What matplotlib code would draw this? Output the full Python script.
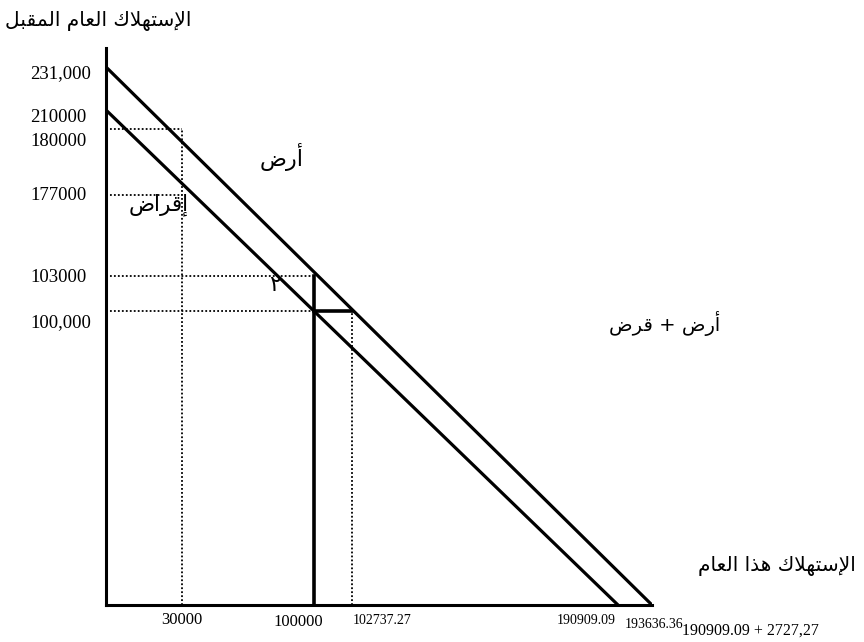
import numpy as np
import matplotlib
matplotlib.use("Agg")
import matplotlib.pyplot as plt

# values
upper_x = [0, 193636.36]          # endowment line (land + loan)
upper_y = [231000, 0]
lower_x = [0, 190909.09]          # lending line
lower_y = [210000, 0]

point_x = 100000                  # chosen consumption this year
point_y = 100000
point_y_up = 103000
lend_x = 102737.27
guide_x = 30000
guide_y = [180000, 177000]

y_tick_vals = [231000, 210000, 180000, 177000, 103000, 100000]
y_tick_text = ["231,000", "210000", "180000", "177000", "103000", "100,000"]
x_tick_vals = [30000, 100000, 102737.27, 190909.09, 193636.36]
x_tick_text = ["30000", "100000", "102737.27", "190909.09", "193636.36"]
x_extra_text = "190909.09 + 2727,27"

y_title = "الإستهلاك العام المقبل"
x_title = "الإستهلاك هذا العام"
lbl_land = "أرض"
lbl_lend = "إقراض"
lbl_both = "أرض + قرض"
lbl_two = "٢"

# the drawing is schematic, not to scale: piecewise scale breakpoints (pixels)
x_brk = [0, 30000, 100000, 102737.27, 190909.09, 193636.36]
x_pix = [0, 76, 208, 246, 512, 546]
y_brk = [0, 100000, 103000, 177000, 180000, 210000, 231000, 241000]
y_pix = [0, 294, 329, 410, 476, 495, 538, 557]


# matplotlib 3.10 has no arabic shaping, so pick presentation forms by hand
FORMS = {
    'ا': ('\uFE8D', '\uFE8E', None, None),
    'أ': ('\uFE83', '\uFE84', None, None),
    'إ': ('\uFE87', '\uFE88', None, None),
    'ذ': ('\uFEAB', '\uFEAC', None, None),
    'ر': ('\uFEAD', '\uFEAE', None, None),
    'ب': ('\uFE8F', '\uFE90', '\uFE91', '\uFE92'),
    'ت': ('\uFE95', '\uFE96', '\uFE97', '\uFE98'),
    'س': ('\uFEB1', '\uFEB2', '\uFEB3', '\uFEB4'),
    'ض': ('\uFEBD', '\uFEBE', '\uFEBF', '\uFEC0'),
    'ع': ('\uFEC9', '\uFECA', '\uFECB', '\uFECC'),
    'ق': ('\uFED5', '\uFED6', '\uFED7', '\uFED8'),
    'ك': ('\uFED9', '\uFEDA', '\uFEDB', '\uFEDC'),
    'ل': ('\uFEDD', '\uFEDE', '\uFEDF', '\uFEE0'),
    'م': ('\uFEE1', '\uFEE2', '\uFEE3', '\uFEE4'),
    'ه': ('\uFEE9', '\uFEEA', '\uFEEB', '\uFEEC'),
    'لا': ('\uFEFB', '\uFEFC', None, None),
    'لأ': ('\uFEF7', '\uFEF8', None, None),
    'لإ': ('\uFEF9', '\uFEFA', None, None),
}


def shape(s):
    toks = []
    i = 0
    while i < len(s):
        if s[i] == 'ل' and i + 1 < len(s) and s[i:i + 2] in FORMS:
            toks.append(s[i:i + 2])
            i += 2
        else:
            toks.append(s[i])
            i += 1
    out = []
    for k, t in enumerate(toks):
        if t not in FORMS:
            out.append(t)
            continue
        prev = toks[k - 1] if k > 0 else None
        nxt = toks[k + 1] if k + 1 < len(toks) else None
        pj = prev in FORMS and FORMS[prev][2] is not None
        nj = FORMS[t][2] is not None and nxt in FORMS
        f = FORMS[t]
        if pj and nj:
            out.append(f[3])
        elif pj:
            out.append(f[1])
        elif nj:
            out.append(f[2])
        else:
            out.append(f[0])
    return "".join(out[::-1])


fig = plt.figure(figsize=(8.64, 6.42), dpi=100)
ax = fig.add_axes([106 / 864, 37 / 642, 546 / 864, 557 / 642])
ax.set_xscale('function', functions=(lambda v: np.interp(v, x_brk, x_pix),
                                     lambda p: np.interp(p, x_pix, x_brk)))
ax.set_yscale('function', functions=(lambda v: np.interp(v, y_brk, y_pix),
                                     lambda p: np.interp(p, y_pix, y_brk)))
ax.set_xlim(0, 193636.36)
ax.set_ylim(0, 241000)

for s in ['top', 'right']:
    ax.spines[s].set_visible(False)
for s in ['left', 'bottom']:
    ax.spines[s].set_linewidth(2.2)
ax.set_xticks([])
ax.set_yticks([])

# budget lines
ax.plot(upper_x, upper_y, color='black', lw=2.3, solid_capstyle='butt')
ax.plot(lower_x, lower_y, color='black', lw=2.3, solid_capstyle='butt')

# dotted guides
dot = dict(color='black', lw=1.3, linestyle=(0, (1, 1.2)))
ax.plot([0, guide_x], [guide_y[0], guide_y[0]], **dot)
ax.plot([0, guide_x], [guide_y[1], guide_y[1]], **dot)
ax.plot([guide_x, guide_x], [0, guide_y[0]], **dot)
ax.plot([0, point_x], [point_y_up, point_y_up], **dot)
ax.plot([0, point_x], [point_y, point_y], **dot)
ax.plot([lend_x, lend_x], [0, point_y], **dot)

# solid markers of the choice
ax.plot([point_x, point_x], [0, point_y_up], color='black', lw=2.6)
ax.plot([point_x, lend_x], [point_y, point_y], color='black', lw=2.6)

serif = 'Liberation Serif'
y_offs = [-7, -8, -13, 0, -2, -12]
for v, t, dy in zip(y_tick_vals, y_tick_text, y_offs):
    ax.annotate(t, xy=(0, v), xycoords=('axes fraction', 'data'),
                xytext=(-76, dy), textcoords='offset pixels',
                ha='left', va='center', fontsize=13.5, family=serif)

x_offs = [(0, -15, 'center', 12), (-16, -17, 'center', 12), (1, -15, 'left', 10),
          (-2, -15, 'right', 10), (2, -20, 'center', 10)]
for v, t, (dx, dy, ha, fs) in zip(x_tick_vals, x_tick_text, x_offs):
    ax.annotate(t, xy=(v, 0), xycoords=('data', 'axes fraction'),
                xytext=(dx, dy), textcoords='offset pixels',
                ha=ha, va='center', fontsize=fs, family=serif)
ax.annotate(x_extra_text, xy=(x_tick_vals[-1], 0), xycoords=('data', 'axes fraction'),
            xytext=(30, -26), textcoords='offset pixels',
            ha='left', va='center', fontsize=11.5, family=serif)

ar = 'DejaVu Sans'
fig.text(98 / 864, 1 - 21 / 642, shape(y_title), ha='center', va='center',
         fontsize=14.5, family=ar)
ax.text(1.229, 0.07, shape(x_title), transform=ax.transAxes, ha='center',
        va='center', fontsize=14.5, family=ar, clip_on=False)
ax.text(0.322, 0.804, shape(lbl_land), transform=ax.transAxes, ha='center',
        va='center', fontsize=16, family=ar)
ax.text(0.097, 0.718, shape(lbl_lend), transform=ax.transAxes, ha='center',
        va='center', fontsize=15.5, family=ar)
ax.text(1.024, 0.506, shape(lbl_both), transform=ax.transAxes, ha='center',
        va='center', fontsize=14, family=ar, clip_on=False)
ax.text(0.31, 0.575, lbl_two, transform=ax.transAxes, ha='center',
        va='center', fontsize=16, family=ar)

fig.savefig('out.png', dpi=100)
